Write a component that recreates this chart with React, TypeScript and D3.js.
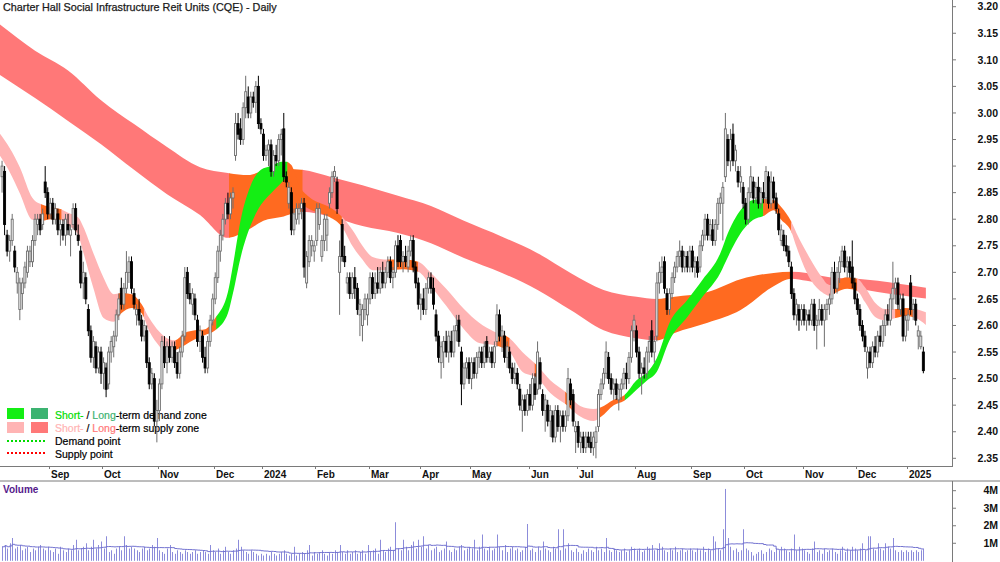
import React from "react";
import * as d3 from "d3";

// ---------- DATA (prices in cents: [open, high, low, close]) ----------
const ohlcAug23 = [[288,291,285,290],[289,290,277,279],[277,278,273,274],[274,277,272,276],[276,281,275,280],[274,275,270,271],[268,271,266,270],[263,269,261,268],[266,269,263,268],[268,272,267,271],[270,275,269,274],[272,275,271,274],[272,277,271,276],[276,281,275,280],[279,281,277,280],[280,281,277,278],[279,282,278,281],[287,290,284,285],[285,286,280,281]];
const ohlcSep23 = [[281,284,280,283],[283,284,279,280],[280,283,279,282],[281,282,277,278],[278,280,275,279],[279,280,276,277],[277,281,275,280],[279,281,277,278],[277,279,273,278],[279,283,278,282],[282,283,277,278],[277,279,275,276],[274,275,267,268],[268,272,265,270],[269,270,264,265],[263,264,258,259],[259,260,253,254],[254,258,252,257],[256,257,251,252],[252,256,251,255],[255,256,249,251]];
const ohlcOct23 = [[251,254,248,253],[252,253,246.5,248],[249,256,248,255],[255,258,253,257],[256,259,254,258],[258,263,257,262],[262,266,261,265],[267,269,263,264],[264,268,263,267],[267,274,266,270],[270,273,268,272],[272,273,266,267],[266,267,263,264],[262,264,260,263],[263,265,260,261],[261,262,257,258],[258,261,257,260],[259,260,252,253],[253,254,248,249],[249,252,248,251],[250,251,241,242],[242,246,238,244]];
const ohlcNov23 = [[244,250,242,249],[249,258,248,257],[256,258,252,253],[253,257,251,256],[256,258,253,254],[254,257,253,256],[256,257,252,253],[253,255,250,251],[251,256,250,255],[255,259,254,258],[258,271,257,269],[270,271,265,266],[266,268,264,265],[264,267,262,266],[265,266,261,262],[261,262,256,257],[257,260,255,259],[258,259,253,254],[254,256,251,252],[252,258,251,257],[257,262,256,261],[261,266,260,265]];
const ohlcDec23 = [[265,270,264,269],[269,275,268,274],[274,278,272,277],[277,281,276,280],[280,284,279,283],[283,285,280,281],[281,285,280,284],[284,286,282,285],[292,300,291,298],[298,300,295,296],[297,299,294,295],[295,302,294,301],[301,307,299,304],[303,305,299,300],[300,304,299,303],[303,304,301,302],[302,306,300,305],[305,307,297,298],[298,299,296,297]];
const ohlcJan24 = [[296,297,291,292],[292,294,291,293],[293,295,290,294],[294,295,288,289],[289,293,288,292],[292,294,290,291],[291,296,290,295],[295,297,292,296],[297,300,287,288],[288,289,286,287],[283,287,282,286],[285,286,277,278],[278,282,277,281],[280,283,279,282],[281,283,279,282],[282,284,280,283],[283,284,269,271],[268,274,267,273],[272,277,271,276],[275,277,273,276],[274,276,272,275]];
const ohlcFeb24 = [[276,283,275,282],[279,283,278,282],[273,277,272,276],[276,281,274,280],[277,281,274,280],[283,286,282,285],[285,289,284,288],[288,290,287,289],[287,288,281,282],[270,276,262,273],[279,280,272,273],[273,275,271,272],[268,270,266,269],[269,270,265,266],[266,270,265,269],[269,271,265,267],[267,268,262,263],[262,265,258,264],[260,264,257,263],[263,266,261,265],[262,266,260,265]];
const ohlcMar24 = [[265,270,264,269],[269,270,265,266],[266,270,265,268],[268,271,266,267],[267,271,266,270],[270,272,267,268],[268,271,267,270],[270,273,269,272],[272,273,268,269],[269,271,267,270],[270,276,269,275],[275,277,271,272],[276,277,271,272],[272,274,270,273],[273,275,271,272],[271,275,270,274],[274,277,273,276],[276,277,270,271],[271,272,267,268],[268,269,263,264]];
const ohlcApr24 = [[264,266,261,265],[265,267,262,263],[263,268,262,267],[267,270,266,269],[269,270,266,267],[267,269,263,264],[262,263,257,258],[258,259,253,254],[253,257,250,256],[255,258,252,257],[257,259,254,255],[255,259,253,258],[257,259,254,255],[255,260,254,259],[259,262,257,260],[261,262,256,257],[255,256,245,249],[249,253,248,252],[252,254,250,253],[253,254,249,250]];
const ohlcMay24 = [[250,254,248,253],[253,254,250,251],[251,255,250,254],[254,256,252,255],[255,256,252,253],[253,257,252,256],[257,258,253,254],[254,256,253,255],[255,256,252,253],[253,257,252,256],[257,264,256,262],[262,263,257,258],[258,260,255,259],[258,259,253,254],[254,257,252,256],[255,256,251,252],[252,253,249,250],[250,253,249,251],[251,252,248,249],[248,249,244,245],[244,247,240,246],[246,247,243,244],[244,248,243,247]];
const ohlcJun24 = [[247,249,244,245],[245,251,244,250],[249,251,246,247],[248,257,247,255],[253,254,248,249],[247,248,243,244],[244,247,240,246],[245,246,241,242],[242,245,239,244],[243,244,238,239],[239,245,238,244],[244,245,240,241],[241,244,238,243],[243,244,240,241],[241,244,240,243],[243,252,242,250],[249,250,245,246],[247,248,241,242],[240,242,236,241]];
const ohlcJul24 = [[241,242,237,238],[238,240,236,239],[239,240,236,237],[237,240,236,239],[239,240,237,238],[238,240,236,237],[237,240,235.5,239],[238,241,235,240],[241,248,240,247],[247,250,246,249],[249,252,248,251],[251,257,250,255],[254,255,249,250],[250,251,247,248],[248,250,246,249],[249,250,246,247],[246,249,244,248],[248,250,246,249],[249,252,248,251],[251,253,248,250],[250,255,249,254],[254,260,253,259],[259,262,257,261]];
const ohlcAug24 = [[259,260,254,255],[255,256,250,251],[251,253,247,252],[252,254,250,251],[251,256,250,255],[255,258,253,257],[259,261,254,255],[255,258,253,257],[258,270,257,268],[268,272,266,270],[270,273,268,271],[272,273,266,267],[266,267,262,263],[263,267,262,266],[266,270,265,269],[269,272,268,271],[271,274,270,273],[273,276,271,274],[274,275,270,271],[271,274,270,273],[273,274,270,271],[271,275,270,274]];
const ohlcSep24 = [[274,275,270,271],[271,273,269,272],[272,273,269,270],[271,276,270,275],[275,278,274,277],[277,281,276,280],[280,281,276,277],[277,280,276,279],[278,280,275,276],[276,280,275,279],[279,284,278,283],[283,285,281,284],[283,287,276,286],[288,300,287,297],[295,296,290,291],[291,297,289,295],[296,298,290,291],[291,294,289,293],[289,290,286,287],[287,290,285,288],[286,287,282,283]];
const ohlcOct24 = [[283,284,279,280],[280,286,279,285],[285,290,284,288],[287,288,283,284],[284,287,283,286],[286,288,282,283],[283,286,282,285],[285,287,283,284],[284,290,283,289],[288,289,282,283],[283,289,282,287],[287,288,283,284],[284,285,281,282],[281,282,277,278],[276,279,275,278],[277,278,274,275],[275,277,273,274],[274,275,271,272],[271,272,265,266],[266,267,261,262],[262,265,260,264],[263,264,259,261],[261,264,260,263]];
const ohlcNov24 = [[263,264,260,261],[261,263,259,262],[262,263,260,261],[261,265,260,264],[264,265,259,260],[260,262,255.5,261],[261,265,260,263],[263,264,260,261],[261,264,256,263],[263,265,261,264],[264,266,262,265],[265,271,264,270],[270,272,266,267],[267,271,266,270],[270,273,268,272],[272,275,271,274],[274,275,270,271],[271,273,269,272],[272,273,269,270],[271,276,267,268],[268,269,264,265]];
const ohlcDec24 = [[265,266,262,263],[263,264,259,260],[260,261,257,258],[258,259,255,256],[252,256,250,255],[255,256,252,253],[253,257,252,256],[256,258,254,255],[255,259,254,258],[258,260,256,257],[257,261,256,260],[260,263,258,262],[262,264,260,261],[261,266,260,265],[265,272,263,267],[267,269,264,268],[268,269,263,264],[263,266,262,265],[265,266,257,258],[258,262,257,261]];
const ohlcJan25 = [[261,263,259,262],[268,269.5,262,263],[263,265,261,264],[264,265,260,261],[258,260,255.5,259],[256,259,255.5,258],[255,256,251,251.5]];

// Volume in units of 100k shares
const volAug23 = [8,9,7,10,13,7,8,9,6,7,8,5,7,6,8,9,7,6,8];
const volSep23 = [6,5,7,4,8,6,5,7,6,9,12,6,7,8,10,6,8,12,7,9,11];
const volOct23 = [7,14,5,6,4,7,8,6,14,9,7,8,7,6,5,7,8,6,7,9,8,13];
const volNov23 = [6,5,4,7,9,5,4,6,5,4,6,5,4,5,6,4,5,6,5,4,9,6];
const volDec23 = [5,7,4,6,8,5,4,6,7,12,8,6,5,4,6,5,4,3,4];
const volJan24 = [3,4,3,5,4,3,4,5,6,4,3,4,8,3,4,5,4,6,9,3,5];
const volFeb24 = [4,5,6,4,3,5,4,6,5,9,5,4,6,4,5,6,4,5,6,4,9];
const volMar24 = [5,6,7,4,12,6,5,7,8,6,22,7,6,12,8,6,9,11,7,12];
const volApr24 = [8,14,7,9,6,7,8,5,6,7,11,6,5,7,6,8,9,6,7,8];
const volMay24 = [7,12,6,8,15,7,6,8,6,7,15,8,6,9,5,7,8,6,7,5,6,8,21];
const volJun24 = [6,7,5,8,6,11,7,6,5,8,7,18,6,18,7,10,6,5,7];
const volJul24 = [5,4,6,5,7,6,5,8,6,7,5,13,6,5,7,6,5,6,7,5,6,8,7];
const volAug24 = [6,7,5,6,8,7,9,6,7,10,8,6,5,7,6,8,5,6,7,5,6,7];
const volSep24 = [6,5,7,6,8,5,7,6,14,11,7,6,18,41,13,8,6,7,5,6,18];
const volOct24 = [7,6,5,3,4,5,6,4,5,7,6,5,7,6,8,7,6,5,7,15,6,8,7];
const volNov24 = [6,5,4,7,11,5,6,4,7,5,6,7,5,4,6,8,5,7,6,8,7];
const volDec24 = [6,7,10,6,14,14,7,6,10,7,6,10,8,7,13,6,5,6,5,6];
const volJan25 = [5,6,5,6,5,6,7];

const monthOhlc = [ohlcAug23, ohlcSep23, ohlcOct23, ohlcNov23, ohlcDec23, ohlcJan24, ohlcFeb24, ohlcMar24, ohlcApr24, ohlcMay24, ohlcJun24, ohlcJul24, ohlcAug24, ohlcSep24, ohlcOct24, ohlcNov24, ohlcDec24, ohlcJan25];
const monthVol = [volAug23, volSep23, volOct23, volNov23, volDec23, volJan24, volFeb24, volMar24, volApr24, volMay24, volJun24, volJul24, volAug24, volSep24, volOct24, volNov24, volDec24, volJan25];
const monthLabels = ["", "Sep", "Oct", "Nov", "Dec", "2024", "Feb", "Mar", "Apr", "May", "Jun", "Jul", "Aug", "Sep", "Oct", "Nov", "Dec", "2025"];

const priceTicks = [2.35, 2.4, 2.45, 2.5, 2.55, 2.6, 2.65, 2.7, 2.75, 2.8, 2.85, 2.9, 2.95, 3.0, 3.05, 3.1, 3.15, 3.2];
const volTickValues = [1e6, 2e6, 3e6, 4e6];
const volTickLabels = ["1M", "2M", "3M", "4M"];

// Long-term zone (bar index, upper, lower)
const ltIdx = [-1,13,26,39,52,65,78,89,97,103,110,118,130,142,156,169,182,197,211,224,237,250,258,265,278,291,304,311,317,326,337,345,354,364];
const ltTop = [3.167,3.117,3.080,3.024,2.979,2.936,2.898,2.887,2.883,2.891,2.895,2.893,2.879,2.864,2.844,2.825,2.797,2.767,2.736,2.699,2.667,2.654,2.650,2.654,2.663,2.687,2.699,2.701,2.699,2.691,2.688,2.684,2.678,2.671];
const ltBot = [3.072,3.028,2.985,2.941,2.893,2.847,2.808,2.765,2.780,2.797,2.804,2.814,2.804,2.787,2.774,2.755,2.727,2.699,2.667,2.629,2.591,2.576,2.572,2.586,2.605,2.629,2.674,2.688,2.684,2.676,2.669,2.663,2.657,2.651];
const ltBreaks = [-1, 89.5, 118.5, 258, 311, 364];
const ltStates = ["supply", "mixed", "supply", "mixed", "supply"];

// Short-term zone
const stIdx = [-1,3,7,12,16,19,23,26,30,32,36,40,44,47,51,55,58,62,65,68,72,76,80,84,89,91,94,98,102,106,110,112,114,117,121,125,129,134,138,142,146,152,158,164,169,175,182,188,194,200,205,211,216,222,228,233,236,241,245,250,254,258,263,270,276,283,286,292,296,300,304,307,311,313,318,323,326,329,333,337,340,344,348,352,356,360,364];
const stTop = [2.962,2.934,2.898,2.840,2.827,2.823,2.819,2.812,2.803,2.786,2.736,2.690,2.659,2.661,2.659,2.640,2.614,2.588,2.576,2.572,2.586,2.591,2.593,2.614,2.663,2.714,2.798,2.864,2.893,2.900,2.908,2.908,2.902,2.864,2.842,2.831,2.823,2.804,2.780,2.750,2.729,2.724,2.724,2.720,2.699,2.669,2.631,2.605,2.588,2.576,2.550,2.524,2.497,2.475,2.448,2.443,2.446,2.460,2.468,2.497,2.511,2.539,2.605,2.648,2.686,2.736,2.774,2.823,2.836,2.838,2.836,2.823,2.795,2.774,2.729,2.691,2.676,2.684,2.691,2.688,2.672,2.643,2.631,2.631,2.633,2.631,2.625];
const stBot = [2.921,2.889,2.849,2.799,2.797,2.800,2.799,2.789,2.770,2.738,2.670,2.614,2.607,2.623,2.633,2.623,2.589,2.561,2.548,2.553,2.563,2.574,2.582,2.591,2.623,2.661,2.728,2.789,2.827,2.849,2.868,2.877,2.868,2.836,2.819,2.812,2.804,2.785,2.750,2.724,2.704,2.704,2.706,2.701,2.674,2.637,2.593,2.567,2.563,2.550,2.513,2.501,2.473,2.452,2.428,2.420,2.428,2.450,2.458,2.479,2.496,2.513,2.572,2.616,2.654,2.699,2.729,2.780,2.799,2.806,2.817,2.799,2.776,2.748,2.691,2.663,2.656,2.663,2.669,2.665,2.644,2.616,2.610,2.614,2.618,2.614,2.601];
const stBreaks = [-1,15.5,23.5,46,56,68.5,84.5,112.5,134,152,164,195,200,210,212,222,224.5,235,245.5,300,311,328,337,352,359,364];
const stStates = ["supply","mixed","supply","mixed","supply","mixed","demand","mixed","supply","mixed","supply","mixed","supply","mixed","supply","mixed","supply","mixed","demand","mixed","supply","mixed","supply","mixed","supply"];

// ---------- STYLE ----------
const FONT = "'Liberation Sans', Arial, Helvetica, sans-serif";
const C_ST_DEMAND = "#14ee14";
const C_LT_DEMAND = "#3cb371";
const C_ST_SUPPLY = "#ffb4b4";
const C_LT_SUPPLY = "#ff7878";
const C_MIXED = "#ff6a20";
const C_VOL = "#8c8cda";
const C_AXIS = "#7a7a7a";

const PLOT_RIGHT = 952;
const PRICE_BOTTOM = 466;
const STEP = 2.538;

export default function App() {
  const bars = monthOhlc.flat().map((b, i) => ({ i, o: b[0] / 100, h: b[1] / 100, l: b[2] / 100, c: b[3] / 100 }));
  const vols = monthVol.flat().map((v) => v * 1e5);
  const N = bars.length;

  const x = d3.scaleLinear().domain([0, N - 1]).range([2.05, 2.05 + STEP * (N - 1)]);
  const y = d3.scaleLinear().domain([2.35, 3.2]).range([458.3, 6.7]);
  const yv = d3.scaleLinear().domain([0, 4e6]).range([560.8, 490.7]);

  const monthStart: number[] = [];
  let acc = 0;
  monthOhlc.forEach((m) => { monthStart.push(acc); acc += m.length; });

  const bandPath = (idx: number[], top: number[], bot: number[]) =>
    d3.area<number>()
      .x((_, k) => x(idx[k]))
      .y0((_, k) => y(bot[k]))
      .y1((_, k) => y(top[k]))
      .curve(d3.curveMonotoneX)(idx) || "";

  const ltPath = bandPath(ltIdx, ltTop, ltBot);
  const stPath = bandPath(stIdx, stTop, stBot);

  const ltColor = (s: string) => (s === "supply" ? C_LT_SUPPLY : s === "demand" ? C_LT_DEMAND : C_MIXED);
  const stColor = (s: string) => (s === "supply" ? C_ST_SUPPLY : s === "demand" ? C_ST_DEMAND : C_MIXED);

  const volMA = vols.map((_, k) => d3.mean(vols.slice(Math.max(0, k - 19), k + 1)) as number);
  const volLine = d3.line<number>().x((_, k) => x(k)).y((v) => yv(v)).curve(d3.curveStepAfter)(volMA) || "";

  const segClip = (id: string, a: number, b: number) => {
    const x0 = a <= 0 ? -5 : x(a) - 0.3;
    const x1 = x(b) + 0.3;
    return (
      <clipPath id={id} key={id}>
        <rect x={x0} y={0} width={x1 - x0} height={PRICE_BOTTOM} />
      </clipPath>
    );
  };

  return (
    <svg width={1000} height={562} style={{ position: "absolute", left: 0, top: 0, background: "#fff" }} fontFamily={FONT}>
      <defs>
        <clipPath id="plotclip"><rect x={0} y={0} width={PLOT_RIGHT} height={PRICE_BOTTOM} /></clipPath>
        {ltStates.map((_, k) => segClip(`lt${k}`, ltBreaks[k], ltBreaks[k + 1]))}
        {stStates.map((_, k) => segClip(`st${k}`, stBreaks[k], stBreaks[k + 1]))}
      </defs>
      <rect x={0} y={0} width={1000} height={562} fill="#fff" />

      {/* title */}
      <text x={3} y={11} fontSize={10.8} fill="#1a1a1a" stroke="#1a1a1a" strokeWidth={0.25}>Charter Hall Social Infrastructure Reit Units (CQE) - Daily</text>

      {/* bands */}
      <g clipPath="url(#plotclip)">
        {ltStates.map((s, k) => (
          <path key={`ltp${k}`} d={ltPath} fill={ltColor(s)} clipPath={`url(#lt${k})`} />
        ))}
        {stStates.map((s, k) => (
          <path key={`stp${k}`} d={stPath} fill={stColor(s)} clipPath={`url(#st${k})`} />
        ))}
      </g>

      {/* legend */}
      <g fontSize={10.5}>
        <rect x={7} y={408} width={17} height={11} fill={C_ST_DEMAND} />
        <rect x={31} y={408} width={17} height={11} fill={C_LT_DEMAND} />
        <text x={55} y={419} strokeWidth={0.2}>
          <tspan fill="#00dd00" stroke="#00dd00">Short-</tspan>
          <tspan fill="#000" stroke="#000"> / </tspan>
          <tspan fill={C_LT_DEMAND} stroke={C_LT_DEMAND}>Long</tspan>
          <tspan fill="#000" stroke="#000">-term demand zone</tspan>
        </text>
        <rect x={7} y={422} width={17} height={11} fill={C_ST_SUPPLY} />
        <rect x={31} y={422} width={17} height={11} fill={C_LT_SUPPLY} />
        <text x={55} y={432} strokeWidth={0.2}>
          <tspan fill={C_ST_SUPPLY} stroke={C_ST_SUPPLY}>Short-</tspan>
          <tspan fill="#000" stroke="#000"> / </tspan>
          <tspan fill={C_LT_SUPPLY} stroke={C_LT_SUPPLY}>Long</tspan>
          <tspan fill="#000" stroke="#000">-term supply zone</tspan>
        </text>
        <line x1={7} x2={47} y1={441} y2={441} stroke="#00dd00" strokeWidth={2} strokeDasharray="2,2" />
        <text x={55} y={445} fill="#000" stroke="#000" strokeWidth={0.2}>Demand point</text>
        <line x1={7} x2={47} y1={453} y2={453} stroke="#ff0000" strokeWidth={2} strokeDasharray="2,2" />
        <text x={55} y={457.5} fill="#000" stroke="#000" strokeWidth={0.2}>Supply point</text>
      </g>

      {/* candles */}
      <g clipPath="url(#plotclip)">
        {bars.map((b) => {
          const cx = x(b.i);
          const up = b.c >= b.o;
          const top = y(Math.max(b.o, b.c));
          const bot = y(Math.min(b.o, b.c));
          const col = up ? "#6e6e6e" : "#000";
          return (
            <g key={b.i}>
              <line x1={cx} x2={cx} y1={y(b.h)} y2={y(b.l)} stroke={col} strokeWidth={1} />
              <rect x={cx - 1} y={top} width={2} height={Math.max(bot - top, 0.8)} fill={up ? "#f4f4f4" : "#000"} stroke={col} strokeWidth={0.9} />
            </g>
          );
        })}
      </g>

      {/* price axis */}
      <line x1={PLOT_RIGHT + 0.5} x2={PLOT_RIGHT + 0.5} y1={0} y2={PRICE_BOTTOM} stroke={C_AXIS} />
      {priceTicks.map((t) => (
        <g key={t}>
          <line x1={PLOT_RIGHT} x2={PLOT_RIGHT + 4} y1={y(t)} y2={y(t)} stroke={C_AXIS} />
          <text x={998} y={y(t) + 3.7} textAnchor="end" fontSize={10.5} fontWeight="bold" fill="#111">{t.toFixed(2)}</text>
        </g>
      ))}

      {/* date axis band */}
      <line x1={0} x2={PLOT_RIGHT + 1} y1={PRICE_BOTTOM + 0.5} y2={PRICE_BOTTOM + 0.5} stroke={C_AXIS} />
      <line x1={0} x2={1000} y1={481} y2={481} stroke={C_AXIS} />
      {monthStart.map((s, k) => {
        if (!monthLabels[k]) return null;
        const tx = Math.round(x(s) - STEP / 2) + 0.5;
        return (
          <g key={`m${k}`}>
            <line x1={tx} x2={tx} y1={PRICE_BOTTOM} y2={PRICE_BOTTOM + 3} stroke={C_AXIS} />
            <text x={tx + 1.5} y={478} fontSize={10} fontWeight="bold" fill="#111">{monthLabels[k]}</text>
          </g>
        );
      })}

      {/* volume panel */}
      <text x={3} y={493} fontSize={10} fontWeight="bold" fill="#551a8b">Volume</text>
      {vols.map((v, k) => {
        const vx = Math.round(x(k)) + 0.5;
        return <line key={`v${k}`} x1={vx} x2={vx} y1={yv(0)} y2={yv(v)} stroke={C_VOL} strokeWidth={1} />;
      })}
      <path d={volLine} fill="none" stroke="#7373d0" strokeWidth={1} />
      <line x1={PLOT_RIGHT + 0.5} x2={PLOT_RIGHT + 0.5} y1={481} y2={562} stroke={C_AXIS} />
      {volTickValues.map((t, k) => (
        <g key={`vt${k}`}>
          <line x1={PLOT_RIGHT} x2={PLOT_RIGHT + 4} y1={yv(t)} y2={yv(t)} stroke={C_AXIS} />
          <text x={998} y={yv(t) + 3.7} textAnchor="end" fontSize={10.5} fontWeight="bold" fill="#111">{volTickLabels[k]}</text>
        </g>
      ))}
    </svg>
  );
}
